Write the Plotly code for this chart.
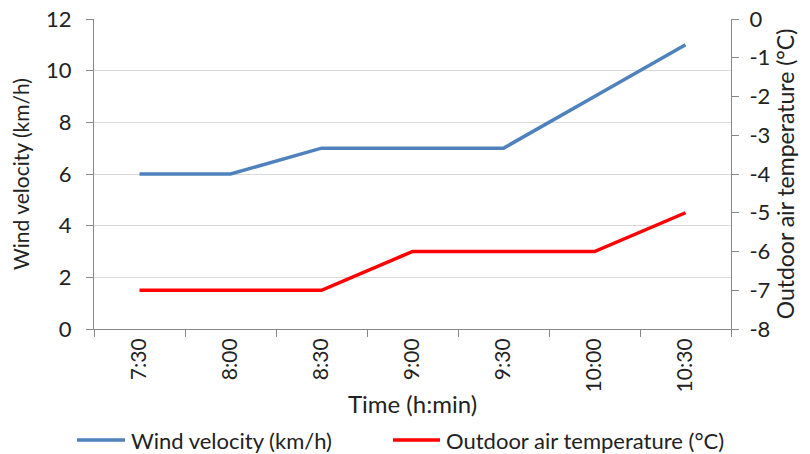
import plotly.graph_objects as go

times = ["7:30", "8:00", "8:30", "9:00", "9:30", "10:00", "10:30"]
wind_velocity = [6, 6, 7, 7, 7, 9, 11]
outdoor_temp = [-7, -7, -7, -6, -6, -6, -5]
temp_ticks = [-8, -7, -6, -5, -4, -3, -2, -1, 0]

blue = "#4F81BD"
red = "#FF0000"
font = "Lato, Open Sans, sans-serif"

fig = go.Figure()
fig.add_trace(go.Scatter(x=times, y=wind_velocity, mode="lines", name="Wind velocity (km/h)",
                         line=dict(color=blue, width=3.5), yaxis="y"))
fig.add_trace(go.Scatter(x=times, y=outdoor_temp, mode="lines", name="Outdoor air temperature (°C)",
                         line=dict(color=red, width=3.5), yaxis="y2"))

axis_common = dict(showline=True, linecolor="#888888", linewidth=1, ticks="outside",
                   tickcolor="#888888", ticklen=7, automargin=False)

fig.update_layout(
    width=810, height=454,
    margin=dict(l=94, r=79, t=19, b=125),
    plot_bgcolor="white", paper_bgcolor="white",
    font=dict(family=font, color="#222"),
    showlegend=False,
    xaxis=dict(type="category", tickson="boundaries", tickangle=-90, showgrid=False,
               range=[-0.5, len(times) - 0.5], tickfont=dict(size=21, color="#222"),
               title=dict(text="Time (h:min)", font=dict(size=24), standoff=4),
               **axis_common),
    yaxis=dict(range=[0, 12], dtick=2, showgrid=True, gridcolor="#D9D9D9", zeroline=False,
               tickfont=dict(size=22, color="#222"), ticklabelstandoff=10,
               title=dict(text="Wind velocity (km/h)", font=dict(size=21), standoff=10),
               **axis_common),
    yaxis2=dict(range=[-8, 0], overlaying="y", side="right", showgrid=False, zeroline=False,
                tickmode="array", tickvals=temp_ticks, ticktext=[str(t) for t in temp_ticks],
                tickfont=dict(size=22, color="#222"), ticklabelstandoff=6,
                title=dict(text="Outdoor air temperature (°C)", font=dict(size=23), standoff=8),
                **axis_common),
)

# Custom legend (long line samples like the original), positions in pixels
W, H, L, T, PW, PH = 810, 454, 94, 19, 637, 310
legend_items = [("Wind velocity (km/h)", blue, 77, 125, 129),
                ("Outdoor air temperature (°C)", red, 393, 440, 444)]
ly = (H - 125 - 440) / PH
for label, color, x0, x1, xt in legend_items:
    fig.add_shape(type="line", xref="paper", yref="paper", x0=(x0 - L) / PW,
                  x1=(x1 - L) / PW, y0=ly, y1=ly,
                  line=dict(color=color, width=3.5))
    fig.add_annotation(xref="paper", yref="paper", x=(xt - L) / PW, y=ly,
                       text=label, showarrow=False, xanchor="left", yanchor="middle",
                       font=dict(size=22, color="#222"))

fig.write_html("out.html", config={"displayModeBar": False},
               post_script="document.body.style.margin='0';document.body.style.overflow='hidden';")
